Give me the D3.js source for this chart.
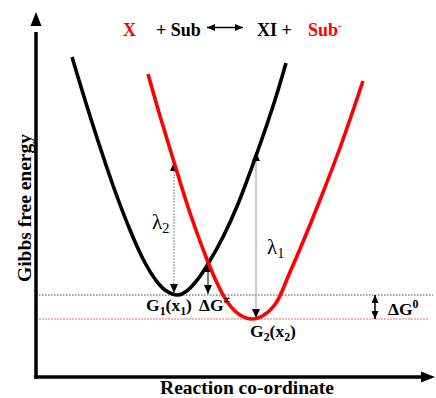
<!DOCTYPE html>
<html>
<head>
<meta charset="utf-8">
<script src="https://cdn.jsdelivr.net/npm/d3@7/dist/d3.min.js"></script>
<style>
  html, body { margin: 0; padding: 0; background: #fff; }
  svg { display: block; }
  text { font-family: "Liberation Serif", "Times New Roman", serif; }
</style>
</head>
<body>
<svg id="chart" width="436" height="398"></svg>
<script>
// ---- Data (reaction coordinate, Gibbs free energy; arbitrary units) ----
const reactantCurve = [ // black: X + Sub
  [36,320],[49,277],[64,230],[79,186],[94,147],[107,118],[119,98],[129,87],
  [142,82],[152,87],[162,98],[172,113],[187,140],[202,173],[221,224],[239,277],[250,314]
];
const productCurve = [ // red: XI + Sub-
  [112,303],[124,261],[138,215],[154,164],[172,115],[182,92],[192,74],[204,62],
  [216,58],[228,62],[240,74],[254,105],[264,128],[284,177],[305,232],[327,296]
];
const levelG1 = 82;   // G1(x1)
const levelG2 = 58;   // G2(x2)
const lambda2 = { x: 138, from: 84, to: 215 };
const lambda1 = { x: 220, from: 59, to: 225 };
const dGact   = { x: 172, from: 83, to: 114 };
const dG0     = { x: 339, from: 58, to: 82 };

const svg = d3.select("#chart");
const x = d3.scaleLinear().domain([0, 400]).range([36, 436]);
const y = d3.scaleLinear().domain([0, 362]).range([377, 15]);

// markers
const defs = svg.append("defs");
function marker(id, color, w, l) {
  defs.append("marker").attr("id", id)
    .attr("viewBox", `0 ${-w/2} ${l} ${w}`)
    .attr("refX", l).attr("refY", 0)
    .attr("markerWidth", l).attr("markerHeight", w)
    .attr("markerUnits", "userSpaceOnUse")
    .attr("orient", "auto-start-reverse")
    .append("path").attr("d", `M0,${-w/2}L${l},0L0,${w/2}Z`).attr("fill", color);
}
marker("ah", "#000", 8, 9);
marker("ahs", "#000", 7, 8);

// energy level dotted lines
svg.append("line").attr("x1", x(0)).attr("x2", x(397))
  .attr("y1", y(levelG1)).attr("y2", y(levelG1))
  .attr("stroke", "#444").attr("stroke-width", 1).attr("stroke-dasharray", "1.5,1.5");
svg.append("line").attr("x1", x(0)).attr("x2", x(393))
  .attr("y1", y(levelG2)).attr("y2", y(levelG2))
  .attr("stroke", "#f07070").attr("stroke-width", 1.2).attr("stroke-dasharray", "2,1");

// axes (no ticks)
const gy = svg.append("g").attr("transform", `translate(${x(0)},0)`)
  .call(d3.axisLeft(y).tickValues([]).tickSizeOuter(0));
const gx = svg.append("g").attr("transform", `translate(0,${y(0)})`)
  .call(d3.axisBottom(x).tickValues([]).tickSizeOuter(0));
gy.select(".domain").attr("d", `M0,${y(0)+1.75}V${y(345)}`).attr("stroke", "#000").attr("stroke-width", 3.5);
gx.select(".domain").attr("d", `M${x(0)-1.75},0H${x(386)}`).attr("stroke", "#000").attr("stroke-width", 3.5);
// arrowheads on axes
svg.append("path").attr("d", `M${x(0)},${y(365)}L${x(0)-5.5},${y(351)}L${x(0)+5.5},${y(351)}Z`).attr("fill", "#000");
svg.append("path").attr("d", `M${x(399)},${y(0)}L${x(385)},${y(0)-5.5}L${x(385)},${y(0)+5.5}Z`).attr("fill", "#000");

// vertical arrows
function vArrow(a, color, width, dash, mStart, mEnd) {
  const l = svg.append("line").attr("x1", x(a.x)).attr("x2", x(a.x))
    .attr("y1", y(a.from)).attr("y2", y(a.to))
    .attr("stroke", color).attr("stroke-width", width);
  if (dash) l.attr("stroke-dasharray", dash);
  if (mStart) l.attr("marker-start", `url(#${mStart})`);
  if (mEnd) l.attr("marker-end", `url(#${mEnd})`);
}
vArrow(lambda2, "#888", 1, "2,1", "ah", "ah");
vArrow(lambda1, "#999", 1, null, "ah", "ah");
vArrow(dGact, "#000", 1, null, "ah", "ah");
vArrow(dG0, "#000", 1.5, null, "ahs", "ahs");

// curves
const line = d3.line().x(d => x(d[0])).y(d => y(d[1])).curve(d3.curveCatmullRom.alpha(0.5));
svg.append("path").datum(reactantCurve).attr("d", line)
  .attr("fill", "none").attr("stroke", "#000").attr("stroke-width", 3.6).attr("stroke-linecap", "butt");
svg.append("path").datum(productCurve).attr("d", line)
  .attr("fill", "none").attr("stroke", "#ff0000").attr("stroke-width", 3.6).attr("stroke-linecap", "butt");

// title equation
const tf = 18;
function t(xp, yp, s, color) {
  return svg.append("text").attr("x", xp).attr("y", yp).attr("font-size", tf)
    .attr("font-weight", "bold").attr("fill", color).text(s);
}
t(123, 36, "X", "#ff0000");
t(156, 36, "+ Sub", "#000");
svg.append("line").attr("x1", 207).attr("x2", 243).attr("y1", 27.5).attr("y2", 27.5)
  .attr("stroke", "#000").attr("stroke-width", 1.3)
  .attr("marker-start", "url(#ahs)").attr("marker-end", "url(#ahs)");
t(257, 36, "XI +", "#000");
const sb = t(308, 36, "Sub", "#ff0000");
sb.append("tspan").attr("dy", -7).attr("font-size", 10).text("-");

// labels with sub/superscripts
function richText(xp, yp, parts, size, weight) {
  const te = svg.append("text").attr("x", xp).attr("y", yp).attr("font-size", size)
    .attr("font-weight", weight).attr("fill", "#000");
  let prev = 0;
  parts.forEach(p => {
    const off = p.sub ? 4 : p.sup ? -7 : 0;
    te.append("tspan").attr("dy", off - prev)
      .attr("font-size", (p.sub || p.sup) ? size * 0.68 : size).text(p.t);
    prev = off;
  });
  return te;
}
richText(146, 311, [{t:"G"},{t:"1",sub:true},{t:"(x"},{t:"1",sub:true},{t:")"}], 17.5, "bold");
richText(199, 311, [{t:"ΔG"},{t:"≠",sup:true}], 17.5, "bold");
richText(388, 315, [{t:"ΔG"},{t:"0",sup:true}], 17.5, "bold");
richText(250, 337, [{t:"G"},{t:"2",sub:true},{t:"(x"},{t:"2",sub:true},{t:")"}], 17.5, "bold");
richText(152, 229, [{t:"λ"},{t:"2",sub:true}], 21, "normal");
richText(267, 254, [{t:"λ"},{t:"1",sub:true}], 21, "normal");

// axis titles
svg.append("text").attr("transform", "translate(31,208) rotate(-90)")
  .attr("text-anchor", "middle").attr("font-size", 19.5).attr("font-weight", "bold")
  .text("Gibbs free energy");
svg.append("text").attr("x", 247).attr("y", 394)
  .attr("text-anchor", "middle").attr("font-size", 19.5).attr("font-weight", "bold")
  .text("Reaction co-ordinate");
</script>
</body>
</html>
